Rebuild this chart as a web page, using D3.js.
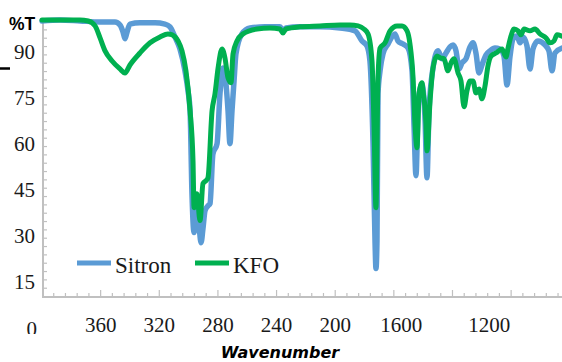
<!DOCTYPE html>
<html><head><meta charset="utf-8">
<script src="https://cdn.jsdelivr.net/npm/d3@7"></script>
<style>html,body{margin:0;padding:0;background:#fff;}svg{display:block;}</style>
</head><body>
<script>
// ---- data ----
const seriesNames = ["Sitron", "KFO"];
const seriesColors = ["#5b9bd5", "#00b050"];

const sitronWn = [4000,3877,3741,3604,3502,3468,3447,3434,3420,3400,3332,3229,3161,3127,3093,3059,3025,3004,2990,2977,2963,2943,2929,2915,2902,2888,2868,2854,2834,2806,2786,2765,2745,2731,2718,2704,2690,2677,2636,2581,2479,2377,2356,2336,2240,2104,1967,1865,1817,1783,1763,1742,1728,1722,1715,1708,1694,1674,1640,1592,1572,1537,1503,1476,1462,1449,1435,1422,1408,1394,1387,1374,1360,1333,1299,1271,1244,1217,1196,1176,1155,1135,1108,1080,1060,1040,1019,999,971,944,910,876,849,828,808,787,760,739,719,692,671,651,617,569,542,521,501,453];
const sitronT = [100.0,100.3,100.0,99.7,99.7,98.7,96.4,94.2,96.4,99.0,99.4,99.4,99.0,98.1,94.8,90.9,83.8,77.3,70.8,43.8,31.2,38.3,33.4,27.9,32.5,38.3,39.9,40.6,56.8,60.1,76.3,84.7,79.5,70.8,60.1,70.8,80.5,89.3,95.8,97.7,98.1,98.1,96.8,97.7,98.1,98.1,97.7,96.8,93.5,91.9,87.0,60.1,27.6,19.5,28.6,76.3,83.8,89.3,92.5,95.8,93.5,92.5,91.2,83.8,65.3,49.7,70.8,77.9,79.5,74.0,67.5,49.0,70.8,84.7,90.3,87.7,89.6,91.6,92.2,90.3,84.4,86.4,87.7,91.6,92.9,89.6,83.1,85.7,89.0,90.3,91.2,90.9,88.6,79.2,88.3,94.2,95.1,92.9,94.8,91.9,84.4,90.9,93.5,92.2,90.3,83.8,89.6,91.2];

const kfoWn = [4000,3741,3686,3638,3604,3570,3522,3468,3434,3400,3332,3263,3195,3141,3113,3072,3045,3018,2990,2970,2963,2943,2922,2902,2881,2868,2840,2820,2799,2772,2752,2731,2711,2697,2670,2629,2533,2445,2377,2356,2336,2240,2104,1967,1899,1844,1804,1776,1749,1735,1722,1708,1694,1660,1626,1578,1544,1510,1490,1469,1456,1442,1428,1408,1401,1381,1374,1353,1333,1306,1285,1258,1231,1210,1190,1162,1142,1121,1101,1080,1060,1040,1019,999,978,958,937,903,862,835,821,801,780,753,733,712,671,637,603,562,535,508,487,453];
const kfoT = [100.3,100.3,100.0,98.4,94.5,90.3,87.0,84.4,83.1,85.7,89.6,92.9,94.8,95.8,95.5,93.5,90.3,83.8,70.8,54.5,39.3,43.8,35.1,47.1,48.1,49.0,70.8,76.3,84.7,90.9,88.0,81.5,79.9,89.3,93.5,95.8,97.4,97.7,97.4,96.1,97.4,98.1,98.4,98.7,98.7,98.4,97.4,95.8,87.0,65.3,39.3,81.5,91.2,92.9,96.8,98.4,98.4,96.8,92.5,81.5,66.6,58.8,76.3,79.9,77.3,66.6,57.8,74.0,84.7,88.6,88.0,87.7,83.8,86.4,87.7,83.1,80.5,72.1,77.3,80.5,80.5,76.6,77.9,74.7,78.9,85.4,88.6,89.6,90.9,88.3,91.2,95.1,97.4,96.8,95.5,97.4,96.8,97.4,95.8,94.5,92.9,93.5,95.5,95.1];

const xTickLabels = ["360","320","280","240","200","1600","1200"];
const xTickLabelAt = [3600,3200,2800,2400,2000,1550,950];
const yTickLabels = [0,15,30,45,60,75,90];

// ---- layout ----
const W = 562, H = 362;
const svg = d3.select("body").append("svg").attr("width", W).attr("height", H);

const x = d3.scaleLinear().domain([4000, 453]).range([42, 562]);
const y = d3.scaleLinear().domain([0, 100]).range([328.5, 21]);
const axisY = 297, axisX = 43;
const gray = "#c0c0c0";

// y axis line + minor ticks (inside)
svg.append("line").attr("x1", axisX).attr("x2", axisX).attr("y1", 18).attr("y2", axisY + 1)
  .attr("stroke", gray).attr("stroke-width", 2);
const yMinor = d3.range(13.1, 100, 2.71);
svg.append("g").selectAll("line").data(yMinor).join("line")
  .attr("x1", axisX).attr("x2", axisX + 4)
  .attr("y1", d => y(d)).attr("y2", d => y(d))
  .attr("stroke", gray).attr("stroke-width", 1.2);

// x axis line + ticks (inside)
svg.append("line").attr("x1", 42).attr("x2", W).attr("y1", axisY).attr("y2", axisY)
  .attr("stroke", gray).attr("stroke-width", 2);
const xMinor = d3.range(3920, 452, -80);
svg.append("g").selectAll("line").data(xMinor).join("line")
  .attr("x1", d => x(d)).attr("x2", d => x(d))
  .attr("y1", axisY).attr("y2", d => (d % 400 === 0) ? axisY - 7 : axisY - 4)
  .attr("stroke", gray).attr("stroke-width", 1.2);

// y tick labels
svg.append("g").selectAll("text").data(yTickLabels).join("text")
  .attr("x", d => d === 0 ? 37 : 35).attr("y", d => y(d) + 7)
  .attr("text-anchor", "end")
  .attr("font-family", "'Liberation Serif', 'Times New Roman', serif")
  .attr("font-size", 21).attr("fill", "#1a1a1a")
  .text(d => d);
// white mask clipping the bottom of the "0" label
svg.append("rect").attr("x", 0).attr("y", 334).attr("width", 60).attr("height", 28).attr("fill", "#fff");

// x tick labels
svg.append("g").selectAll("text").data(xTickLabels).join("text")
  .attr("x", (d, i) => x(xTickLabelAt[i])).attr("y", 332)
  .attr("text-anchor", "middle")
  .attr("font-family", "'Liberation Serif', 'Times New Roman', serif")
  .attr("font-size", 21).attr("fill", "#1a1a1a")
  .text(d => d);

// x axis title
svg.append("text").attr("x", 280).attr("y", 358).attr("text-anchor", "middle")
  .attr("font-family", "'DejaVu Sans', sans-serif").attr("font-weight", "bold")
  .attr("font-style", "italic").attr("font-size", 16).attr("fill", "#000")
  .text("Wavenumber");

// %T label
svg.append("text").attr("x", 9).attr("y", 30)
  .attr("font-family", "'Liberation Sans', Arial, sans-serif").attr("font-weight", "bold")
  .attr("font-size", 17.5).attr("fill", "#000").text("%T");
svg.append("line").attr("x1", 0).attr("x2", 10).attr("y1", 68.5).attr("y2", 68.5)
  .attr("stroke", "#000").attr("stroke-width", 2.5);

// lines
const line = d3.line().x(d => x(d[0])).y(d => y(d[1])).curve(d3.curveMonotoneX);
const series = [d3.zip(sitronWn, sitronT), d3.zip(kfoWn, kfoT)];
svg.append("g").selectAll("path").data(series).join("path")
  .attr("d", line)
  .attr("fill", "none")
  .attr("stroke", (d, i) => seriesColors[i])
  .attr("stroke-width", (d, i) => i === 0 ? 5.5 : 5)
  .attr("stroke-linejoin", "round").attr("stroke-linecap", "round");

// legend
const legendX = [77, 195];
const lg = svg.append("g").selectAll("g").data(seriesNames).join("g");
lg.append("line").attr("x1", (d, i) => legendX[i]).attr("x2", (d, i) => legendX[i] + 34)
  .attr("y1", 263).attr("y2", 263)
  .attr("stroke", (d, i) => seriesColors[i]).attr("stroke-width", 5);
lg.append("text").attr("x", (d, i) => legendX[i] + 38).attr("y", 272.5)
  .attr("font-family", "'Liberation Serif', 'Times New Roman', serif")
  .attr("font-size", 23).attr("fill", "#1a1a1a").text(d => d);
</script>
</body></html>
